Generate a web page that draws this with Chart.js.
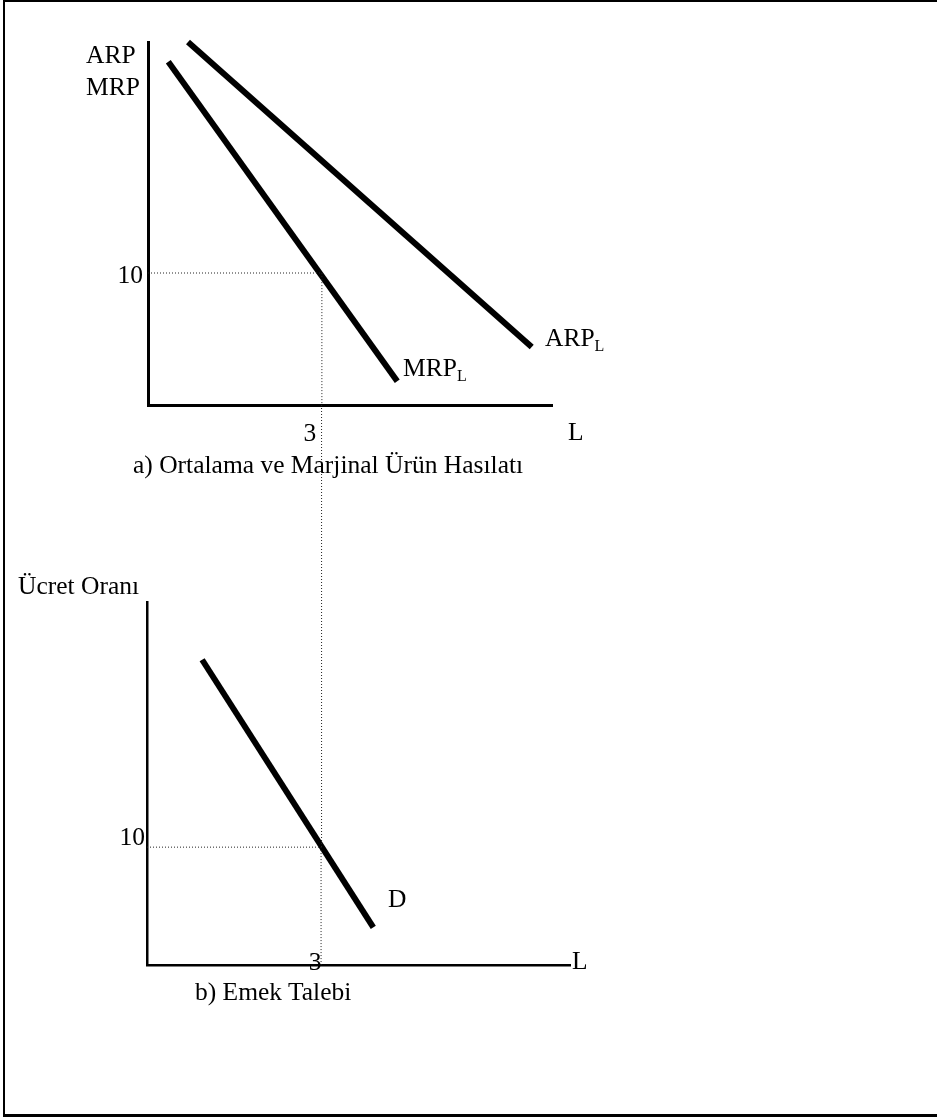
<!DOCTYPE html>
<html>
<head>
<meta charset="utf-8">
<script src="https://cdn.jsdelivr.net/npm/chart.js@4/dist/chart.umd.min.js"></script>
<style>
  body { margin: 0; width: 937px; height: 1117px; position: relative; background: #fff; overflow: hidden; }
  #frame { position: absolute; left: 3px; top: 0; width: 940px; height: 1112px;
           border-top: 2px solid #000; border-left: 2px solid #000; border-bottom: 3px solid #000; }
  canvas { position: absolute; left: 0; top: 0; }
  .t { position: absolute; font-family: "Liberation Serif", "Times New Roman", serif;
       font-size: 25.5px; line-height: 25px; color: #000; white-space: nowrap; }
  .t sub { font-size: 16px; vertical-align: -5px; line-height: 0; }
</style>
</head>
<body>
<div id="frame"></div>
<canvas id="topChart" width="937" height="1117"></canvas>
<canvas id="bottomChart" width="937" height="1117"></canvas>

<div class="t" style="left:86px; top:42px;">ARP</div>
<div class="t" style="left:86px; top:74px;">MRP</div>
<div class="t" style="left:403px; top:355px;">MRP<sub>L</sub></div>
<div class="t" style="left:545px; top:325px;">ARP<sub>L</sub></div>
<div class="t" style="left:568px; top:419px;">L</div>
<div class="t" style="left:133px; top:452px;">a) Ortalama ve Marjinal Ürün Hasılatı</div>

<div class="t" style="left:18px; top:573px;">Ücret Oranı</div>
<div class="t" style="left:388px; top:886px;">D</div>
<div class="t" style="left:572px; top:948px;">L</div>
<div class="t" style="left:195px; top:979px;">b) Emek Talebi</div>

<script>

// a) average / marginal revenue product of labour
const mrpLabor = [0.35, 4.3];
const mrpValues = [26, 1.8];

const arpLabor = [0.69, 6.62];
const arpValues = [27.5, 4.4];

// b) labour demand
const demandLabor = [0.95, 3.9];
const demandValues = [25.9, 3.2];

// equilibrium marked on both panels
const wageRate = 10;
const laborAtWage = 3;

const toPoints = (xs, ys) => xs.map((x, i) => ({ x: x, y: ys[i] }));

function curve(xs, ys) {
  return {
    data: toPoints(xs, ys),
    showLine: true,
    borderColor: "#000",
    borderWidth: 6,
    pointRadius: 0,
    clip: false
  };
}

function guide() {
  return {
    data: toPoints([0, laborAtWage, laborAtWage], [wageRate, wageRate, 0]),
    showLine: true,
    borderColor: "#222",
    borderWidth: 1,
    borderDash: [1, 2],
    pointRadius: 0,
    clip: false
  };
}

function axis(max, width) {
  return {
    type: "linear",
    min: 0,
    max: max,
    grid: { display: false, drawTicks: false },
    ticks: { display: false },
    border: { display: true, color: "#000", width: width }
  };
}

// draws the "10" and "3" labels next to the scales
const tickLabels = {
  id: "tickLabels",
  afterDraw(chart, args, opts) {
    const ctx = chart.ctx;
    const y10 = chart.scales.y.getPixelForValue(wageRate);
    const x3 = chart.scales.x.getPixelForValue(laborAtWage);

    ctx.save();
    ctx.font = '25.5px "Liberation Serif", serif';
    ctx.fillStyle = "#000";
    ctx.textBaseline = "alphabetic";

    ctx.textAlign = "right";
    ctx.fillText(String(wageRate), chart.chartArea.left - opts.yGap, y10 + opts.yShift + 8.5);

    ctx.textAlign = "center";
    ctx.fillText(String(laborAtWage), x3 + opts.xShift, chart.chartArea.bottom + opts.xDrop + 8.5);

    if (opts.linkTo) {
      const top = opts.linkTo.scales.y.getPixelForValue(0);
      ctx.strokeStyle = "#222";
      ctx.lineWidth = 1;
      ctx.setLineDash([1, 2]);
      ctx.beginPath();
      ctx.moveTo(x3 + 0.5, top);
      ctx.lineTo(x3 + 0.5, y10);
      ctx.stroke();
    }
    ctx.restore();
  }
};

function makeChart(id, datasets, xMax, yMax, padding, axisWidth, labels) {
  return new Chart(document.getElementById(id), {
    type: "scatter",
    data: { datasets: datasets },
    options: {
      responsive: false,
      animation: false,
      devicePixelRatio: 1,
      layout: { padding: padding },
      scales: {
        x: axis(xMax, axisWidth),
        y: axis(yMax, axisWidth)
      },
      plugins: {
        legend: { display: false },
        tooltip: { enabled: false },
        tickLabels: labels
      }
    },
    plugins: [tickLabels]
  });
}

const topChart = makeChart(
  "topChart",
  [guide(), curve(mrpLabor, mrpValues), curve(arpLabor, arpValues)],
  6.97, 27.5,
  { left: 148, top: 42, right: 385, bottom: 712 },
  3,
  { yGap: 5, yShift: 1, xShift: -12, xDrop: 27 }
);

makeChart(
  "bottomChart",
  [guide(), curve(demandLabor, demandValues)],
  7.29, 30.8,
  { left: 147, top: 602, right: 367, bottom: 152 },
  2.5,
  { yGap: 2, yShift: -11, xShift: -6, xDrop: -4, linkTo: topChart }
);

</script>
</body>
</html>
